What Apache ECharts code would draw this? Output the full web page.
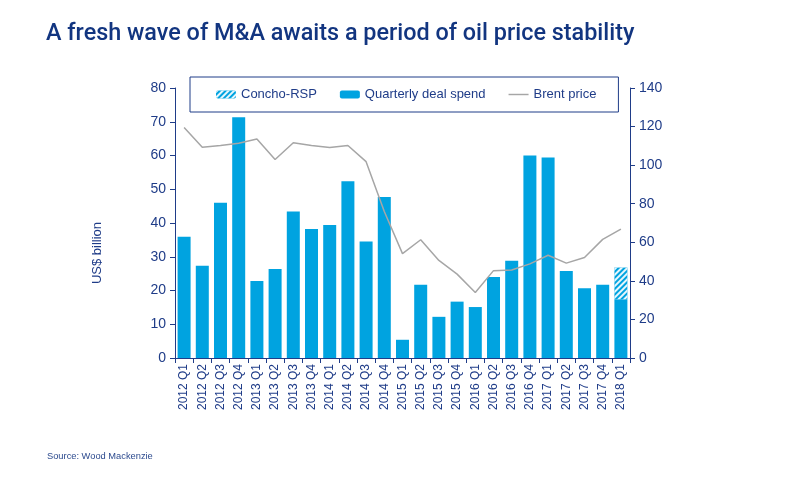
<!DOCTYPE html>
<html>
<head>
    <meta charset="UTF-8">
    <title>M&amp;A and oil price</title>
    <script src="https://cdn.jsdelivr.net/npm/echarts@6/dist/echarts.min.js"></script>
    <style>
        html, body { margin: 0; padding: 0; background: #fff; }
        #main { width: 800px; height: 480px; }
    </style>
</head>
<body>
    <div id="main"></div>
    <script type="text/javascript">
        // quarters on the x axis
        const quarters = [
            '2012 Q1', '2012 Q2', '2012 Q3', '2012 Q4',
            '2013 Q1', '2013 Q2', '2013 Q3', '2013 Q4',
            '2014 Q1', '2014 Q2', '2014 Q3', '2014 Q4',
            '2015 Q1', '2015 Q2', '2015 Q3', '2015 Q4',
            '2016 Q1', '2016 Q2', '2016 Q3', '2016 Q4',
            '2017 Q1', '2017 Q2', '2017 Q3', '2017 Q4',
            '2018 Q1'
        ];
        // quarterly deal spend, US$ billion
        const dealSpend = [
            35.9, 27.3, 46.0, 71.3,
            22.8, 26.4, 43.4, 38.2,
            39.4, 52.4, 34.5, 47.7,
            5.4, 21.7, 12.2, 16.7,
            15.1, 24.0, 28.8, 60.0,
            59.4, 25.8, 20.7, 21.7,
            17.4
        ];
        // Concho-RSP deal, stacked on 2018 Q1 only
        const conchoRsp = [
            null, null, null, null, null, null, null, null,
            null, null, null, null, null, null, null, null,
            null, null, null, null, null, null, null, null,
            9.4
        ];
        // Brent price, US$/bbl (right axis)
        const brent = [
            119.5, 109.3, 110.2, 111.4,
            113.6, 102.9, 111.6, 110.2,
            109.2, 110.2, 101.8, 76.0,
            54.1, 61.3, 50.6, 43.5,
            34.0, 45.3, 45.6, 48.8,
            53.3, 49.2, 52.1, 61.5,
            66.8
        ];

        const navy = '#1f3c88';
        const barBlue = '#00a3e0';
        const grey = '#a6a6a6';

        var myChart = echarts.init(document.getElementById('main'));

        var option = {
            animation: false,
            textStyle: { fontFamily: 'Liberation Sans, Arial, sans-serif' },
            title: [
                {
                    text: 'A fresh wave of M&A awaits a period of oil price stability',
                    left: 46,
                    top: 23,
                    padding: 0,
                    textStyle: {
                        fontFamily: 'Roboto, sans-serif',
                        fontWeight: 500,
                        fontSize: 23.4,
                        color: '#123580'
                    }
                },
                {
                    text: 'Source: Wood Mackenzie',
                    left: 47,
                    top: 452,
                    padding: 0,
                    textStyle: {
                        fontFamily: 'Liberation Sans, Arial, sans-serif',
                        fontWeight: 'normal',
                        fontSize: 9.3,
                        color: '#2c4a8e'
                    }
                }
            ],
            graphic: [
                {
                    type: 'text',
                    x: 97,
                    y: 253,
                    rotation: Math.PI / 2,
                    style: {
                        text: 'US$ billion',
                        fontFamily: 'Liberation Sans, Arial, sans-serif',
                        fontSize: 13,
                        fill: navy,
                        align: 'center',
                        verticalAlign: 'middle'
                    }
                }
            ],
            legend: {
                left: 190,
                top: 77,
                padding: [11, 22, 11, 26],
                itemGap: 23,
                itemWidth: 20,
                itemHeight: 8,
                borderColor: navy,
                borderWidth: 1,
                borderRadius: 0,
                backgroundColor: '#fff',
                textStyle: { fontSize: 13, color: navy },
                data: [
                    { name: 'Concho-RSP' },
                    { name: 'Quarterly deal spend', itemStyle: { color: barBlue } },
                    { name: 'Brent price', icon: 'path://M0,0 L22,0 L22,1.6 L0,1.6 Z', itemStyle: { color: grey } }
                ]
            },
            grid: {
                left: 175,
                right: 170,
                top: 88,
                bottom: 122,
                containLabel: false
            },
            xAxis: {
                type: 'category',
                data: quarters,
                axisLine: { lineStyle: { color: navy, width: 1 } },
                axisTick: { show: true, alignWithLabel: false, length: 5, lineStyle: { color: navy } },
                axisLabel: {
                    rotate: 90,
                    interval: 0,
                    fontSize: 12,
                    color: navy,
                    margin: 6
                }
            },
            yAxis: [
                {
                    type: 'value',
                    min: 0,
                    max: 80,
                    interval: 10,
                    axisLine: { show: true, lineStyle: { color: navy } },
                    axisTick: { show: true, length: 5, lineStyle: { color: navy } },
                    axisLabel: { fontSize: 14, color: navy, margin: 9 },
                    splitLine: { show: false }
                },
                {
                    type: 'value',
                    min: 0,
                    max: 140,
                    interval: 20,
                    position: 'right',
                    axisLine: { show: true, lineStyle: { color: navy } },
                    axisTick: { show: true, length: 5, lineStyle: { color: navy } },
                    axisLabel: { fontSize: 14, color: navy, margin: 9 },
                    splitLine: { show: false }
                }
            ],
            series: [
                {
                    name: 'Quarterly deal spend',
                    type: 'bar',
                    stack: 'deals',
                    barWidth: 13,
                    itemStyle: { color: barBlue },
                    data: dealSpend
                },
                {
                    name: 'Concho-RSP',
                    type: 'bar',
                    stack: 'deals',
                    barWidth: 13,
                    itemStyle: {
                        color: barBlue,
                        decal: {
                            symbol: 'rect',
                            color: 'rgba(255,255,255,0.9)',
                            dashArrayX: [1, 0],
                            dashArrayY: [1.5, 1.5],
                            rotation: -Math.PI / 4
                        }
                    },
                    data: conchoRsp
                },
                {
                    name: 'Brent price',
                    type: 'line',
                    yAxisIndex: 1,
                    symbol: 'none',
                    lineStyle: { color: grey, width: 1.5 },
                    itemStyle: { color: grey },
                    data: brent
                }
            ]
        };

        myChart.setOption(option);
    </script>
</body>
</html>
